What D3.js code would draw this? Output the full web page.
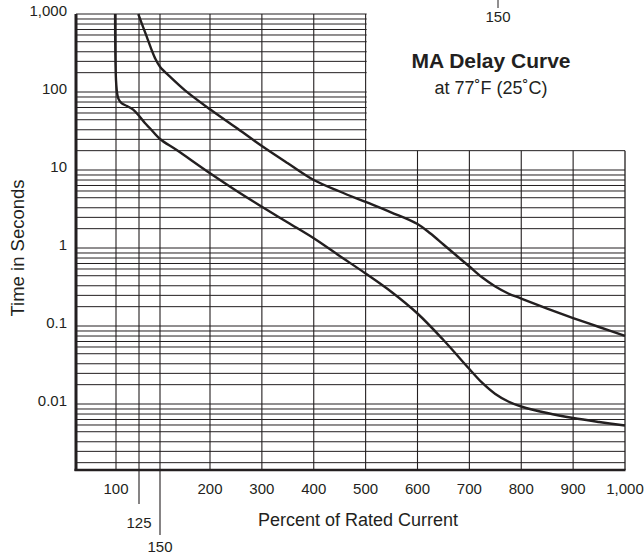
<!DOCTYPE html>
<html>
<head>
<meta charset="utf-8">
<script src="https://cdn.jsdelivr.net/npm/d3@7"></script>
<style>
  html, body { margin: 0; padding: 0; background: #fff; }
  svg { display: block; font-family: "Liberation Sans", Arial, Helvetica, sans-serif; }
</style>
</head>
<body>
<svg id="chart" width="644" height="555"></svg>
<script>
// ---- data ----
const xTickValues = [100, 200, 300, 400, 500, 600, 700, 800, 900, 1000];
const xGridValues = [100, 125, 150, 200, 300, 400, 500, 600, 700, 800, 900, 1000];
const xExtraLabels = [125, 150];
const yTickValues = [1000, 100, 10, 1, 0.1, 0.01];
const minorMultipliers = [1.77, 2.47, 3.28, 4.41, 5.38, 6.33, 7.44, 8.63];
const decadeStarts = [0.001, 0.01, 0.1, 1, 10, 100];
const rightPanelTopSec = 17.7;
const leftPanelMaxPct = 500;

const upperPct = [124.2, 129, 134.2, 139, 144.2, 150, 160, 175, 200, 250, 300, 350, 400, 450, 500, 550, 600, 625, 650, 675, 700, 725, 750, 775, 800, 850, 900, 950, 1000];
const upperSec = [1000, 720, 512, 370, 270, 211, 157, 105, 60, 35, 20.3, 12.2, 7.44, 5.30, 3.89, 2.85, 2.03, 1.534, 1.109, 0.801, 0.579, 0.418, 0.321, 0.261, 0.225, 0.1676, 0.1266, 0.0971, 0.0745];

const lowerPct = [99, 99.3, 100, 100.8, 101.5, 103, 106, 112, 119, 126, 132, 138, 150, 166.7, 200, 250, 300, 350, 400, 450, 500, 550, 600, 650, 700, 725, 750, 775, 800, 850, 900, 950, 1000];
const lowerSec = [1000, 300, 142, 106, 92, 80, 72, 66, 59, 48, 40, 34.3, 25, 18, 9.07, 5.46, 3.38, 2.12, 1.331, 0.790, 0.471, 0.273, 0.1446, 0.0661, 0.0281, 0.0186, 0.01343, 0.01076, 0.00929, 0.00766, 0.00661, 0.00588, 0.0053];

// ---- layout ----
const svg = d3.select("#chart");
const L = 76, R = 625, T = 14, B = 470;
const ink = "#231f20";

const x = d3.scaleLinear()
  .domain([100, 125, 150, 200, 1000])
  .range([116, 139, 160, 210, R]);
const y = d3.scaleLog()
  .domain([0.01, 1000])
  .range([404, T]);

const gGrid = svg.append("g");

// horizontal grid lines (majors + minors)
const hValues = [];
decadeStarts.forEach(d => {
  hValues.push(d * 10);
  minorMultipliers.forEach(m => hValues.push(d * m));
});
const hLines = hValues.filter(v => y(v) < B - 1 && y(v) >= T - 0.5);
gGrid.selectAll("line.h").data(hLines).join("line")
  .attr("class", "h")
  .attr("x1", L)
  .attr("x2", d => d > rightPanelTopSec * 1.001 ? x(leftPanelMaxPct) + 1 : R)
  .attr("y1", d => y(d)).attr("y2", d => y(d))
  .attr("stroke", ink).attr("stroke-width", 1);

// vertical grid lines
gGrid.selectAll("line.v").data(xGridValues).join("line")
  .attr("class", "v")
  .attr("x1", d => x(d)).attr("x2", d => x(d))
  .attr("y1", d => d > leftPanelMaxPct ? y(rightPanelTopSec) : T)
  .attr("y2", d => d === 125 ? 504 : d === 150 ? 535 : B)
  .attr("stroke", ink).attr("stroke-width", d => d === 1000 ? 1.3 : 1.1);

// axes frame
svg.append("line").attr("x1", L).attr("x2", L).attr("y1", T).attr("y2", B + 1)
  .attr("stroke", ink).attr("stroke-width", 3);
svg.append("line").attr("x1", L - 1.5).attr("x2", R + 0.5).attr("y1", B).attr("y2", B)
  .attr("stroke", ink).attr("stroke-width", 2.5);

// curves
const line = d3.line()
  .x(d => x(d[0])).y(d => y(d[1]))
  .curve(d3.curveCatmullRom.alpha(0.5));
const upper = d3.zip(upperPct, upperSec);
const lower = d3.zip(lowerPct, lowerSec);
svg.selectAll("path.curve").data([upper, lower]).join("path")
  .attr("class", "curve")
  .attr("d", line)
  .attr("fill", "none")
  .attr("stroke", ink)
  .attr("stroke-width", 2.4)
  .attr("stroke-linejoin", "round");

// tick labels
const fmt = d3.format(",");
const fmtY = v => v >= 1 ? d3.format(",")(v) : String(v);
svg.append("g").selectAll("text").data(xTickValues).join("text")
  .attr("x", d => x(d)).attr("y", 494)
  .attr("text-anchor", "middle")
  .attr("font-size", 15).attr("fill", ink)
  .text(d => fmt(d));
svg.append("g").selectAll("text").data(yTickValues).join("text")
  .attr("x", 67).attr("y", d => y(d) + 2)
  .attr("text-anchor", "end")
  .attr("font-size", 15).attr("fill", ink)
  .text(d => fmtY(d));
svg.append("g").selectAll("text").data(xExtraLabels).join("text")
  .attr("x", d => x(d)).attr("y", d => d === 125 ? 528 : 552)
  .attr("text-anchor", "middle")
  .attr("font-size", 15).attr("fill", ink)
  .text(d => d);

// stray "150" marker at top
svg.append("line").attr("x1", 498).attr("x2", 498).attr("y1", 0).attr("y2", 8)
  .attr("stroke", ink).attr("stroke-width", 1);
svg.append("text").attr("x", 498).attr("y", 22)
  .attr("text-anchor", "middle").attr("font-size", 15).attr("fill", ink).text("150");

// titles
svg.append("text").attr("x", 491).attr("y", 68)
  .attr("text-anchor", "middle").attr("font-size", 21).attr("font-weight", "bold")
  .attr("fill", ink).text("MA Delay Curve");
svg.append("text").attr("x", 491).attr("y", 94)
  .attr("text-anchor", "middle").attr("font-size", 18)
  .attr("fill", ink).text("at 77˚F (25˚C)");

// axis titles
svg.append("text").attr("x", 358).attr("y", 526)
  .attr("text-anchor", "middle").attr("font-size", 18)
  .attr("fill", ink).text("Percent of Rated Current");
svg.append("text")
  .attr("transform", "translate(24,248) rotate(-90)")
  .attr("text-anchor", "middle").attr("font-size", 18.5)
  .attr("fill", ink).text("Time in Seconds");
</script>
</body>
</html>
